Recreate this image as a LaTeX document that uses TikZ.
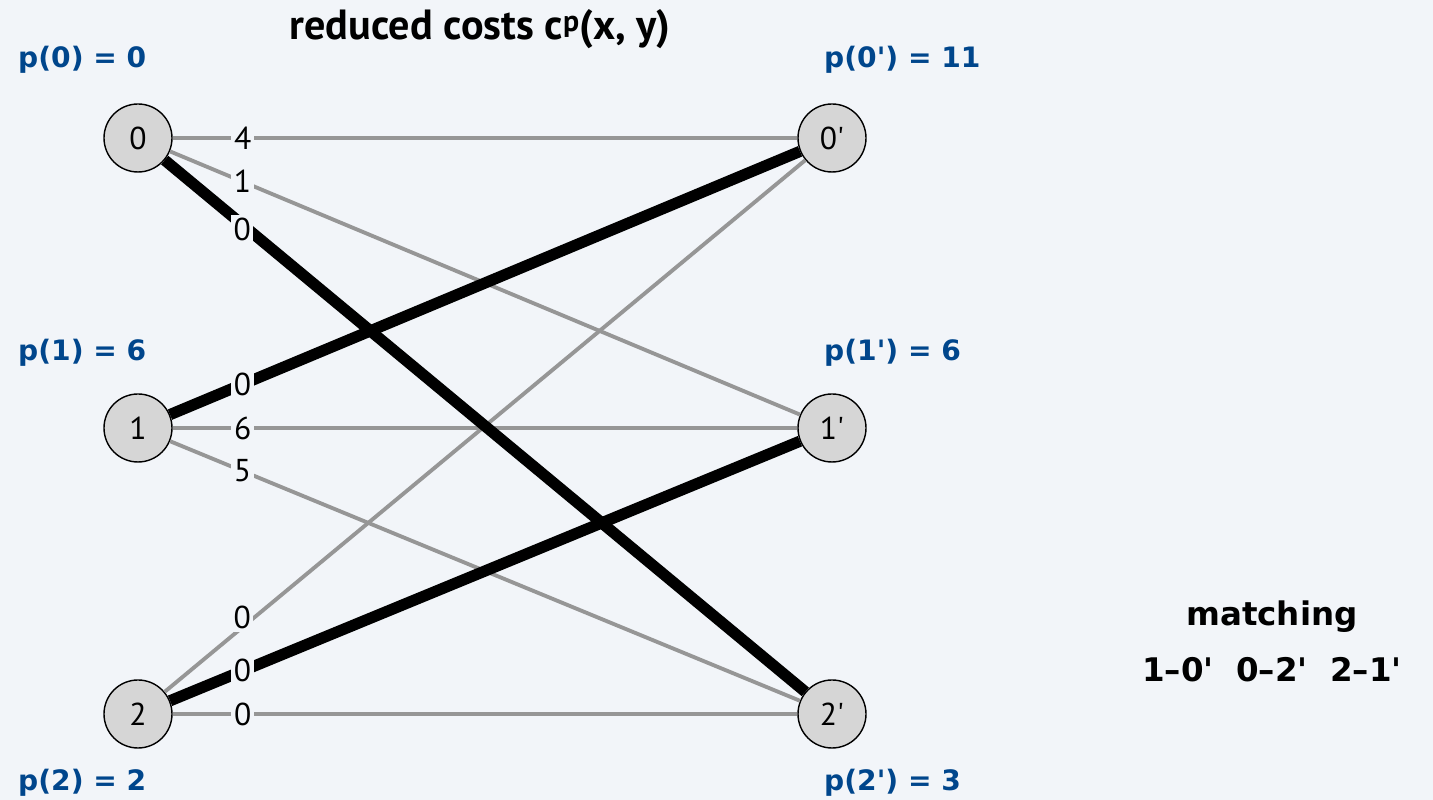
\documentclass[tikz,border=0pt]{standalone}
\usepackage{fontspec}
\setmainfont{PT Sans}
\newfontfamily\boldlab{DejaVu Sans}
\usetikzlibrary{positioning}

\definecolor{bgcol}{RGB}{242,245,249}
\definecolor{potblue}{RGB}{0,70,140}
\definecolor{edgegray}{RGB}{150,150,150}
\definecolor{vfill}{RGB}{214,214,214}

\tikzset{
	vertex/.style={circle, draw=black, line width=0.8pt, fill=vfill, minimum size=1.36cm, inner sep=0pt, font=\fontsize{18}{20}\selectfont},
	plain/.style={draw=edgegray, line width=2.2pt},
	matched/.style={draw=black, line width=6.4pt},
	cost/.style={fill=bgcol, inner sep=1.5pt, font=\fontsize{18}{20}\selectfont},
	potential/.style={anchor=west, text=potblue, font=\boldlab\bfseries\fontsize{16}{18}\selectfont},
}

\begin{document}
\begin{tikzpicture}

		% background

		\fill[bgcol] (0,0) rectangle (28.66,16);

		\useasboundingbox (0,0) rectangle (28.66,16);

		% define vertices

		\node[vertex] (x0) at (2.76, 13.24) {0};

		\node[vertex] (x1) at (2.76, 7.44) {1};

		\node[vertex] (x2) at (2.76, 1.72) {2};

		\node[vertex] (y0) at (16.64, 13.24) {0\textquotesingle};

		\node[vertex] (y1) at (16.64, 7.44) {1\textquotesingle};

		\node[vertex] (y2) at (16.64, 1.72) {2\textquotesingle};

		% edges not in matching

		\draw[plain] (x0) -- (y0) node [cost, pos=0.112] {4};

		\draw[plain] (x0) -- (y1) node [cost, pos=0.115] {1};

		\draw[plain] (x1) -- (y1) node [cost, pos=0.112] {6};

		\draw[plain] (x1) -- (y2) node [cost, pos=0.115] {5};

		\draw[plain] (x2) -- (y0) node [cost, pos=0.121, yshift=0.2cm] {0};

		\draw[plain] (x2) -- (y2) node [cost, pos=0.112] {0};

		% matching

		\draw[matched] (x0) -- (y2) node [cost, pos=0.121, yshift=-0.1cm] {0};

		\draw[matched] (x1) -- (y0) node [cost, pos=0.115] {0};

		\draw[matched] (x2) -- (y1) node [cost, pos=0.115] {0};

		% potentials

		\node[potential] (p0) at (0.24, 14.8) {p(0) = 0};

		\node[potential] (p1) at (0.24, 8.94) {p(1) = 6};

		\node[potential] (p2) at (0.24, 0.34) {p(2) = 2};

		\node[potential] (q0) at (16.36, 14.8) {p(0') = 11};

		\node[potential] (q1) at (16.36, 8.94) {p(1') = 6};

		\node[potential] (q2) at (16.36, 0.34) {p(2') = 3};

		% titles

		\node[font=\bfseries\fontsize{24}{26}\selectfont] (title) at (9.6, 15.42) {reduced costs c{\fontsize{17}{17}\selectfont\raisebox{0.55ex}{p}}(x, y)};

		\node[font=\boldlab\bfseries\fontsize{18.5}{20}\selectfont] (match) at (25.44, 3.66) {matching};

		\node[font=\boldlab\bfseries\fontsize{18.5}{20}\selectfont, below=0.25cm of match] (pairs) {1–0'\ \ 0–2'\ \ 2–1'};

	\end{tikzpicture}
\end{document}
